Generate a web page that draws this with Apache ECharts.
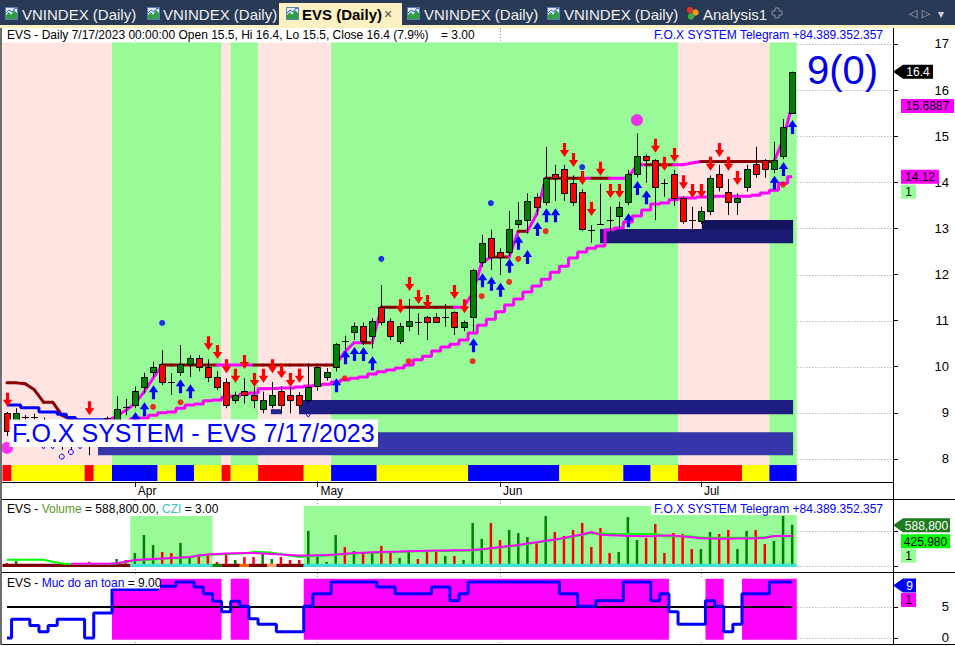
<!DOCTYPE html>
<html>
<head>
<meta charset="utf-8">
<title>EVS Daily</title>
<script src="https://cdn.jsdelivr.net/npm/echarts@6/dist/echarts.min.js"></script>
<style>
html,body{margin:0;padding:0;background:#ffffff;overflow:hidden;}
#chart{width:955px;height:646px;}
</style>
</head>
<body>
<div id="chart"></div>
<script>
// ================= DATA =================
const monthNames = ['Apr', 'May', 'Jun', 'Jul'];
const monthStartBars = [14, 34, 54, 76];
const priceTicks = [8, 9, 10, 11, 12, 13, 14, 15, 16, 17];
const volumeTicks = [0, 500000];
const safetyTicks = [0, 5];

const openP = [
  9.0, 8.85, 8.9, 8.9, 8.8, 8.6, 8.5, 8.3, 8.4, 8.6,
  8.4, 8.88, 8.7, 9.13, 9.18, 9.57, 9.88, 10.07, 9.67, 9.88,
  10.07, 10.18, 9.99, 9.77, 9.67, 9.28, 9.47, 9.39, 9.08, 9.18,
  9.47, 9.39, 9.39, 9.28, 9.58, 9.77, 9.99, 10.56, 10.76, 10.88,
  10.67, 11.3, 10.99, 10.56, 10.88, 10.98, 11.07, 11.07, 11.08, 11.18,
  10.87, 11.07, 12.28, 12.79, 12.48, 12.48, 13.09, 13.18, 13.68, 13.58,
  14.17, 14.29, 13.98, 13.78, 12.97, 13.1, 13.18, 13.28, 13.58, 14.17,
  14.58, 14.48, 13.98, 14.17, 13.67, 13.18, 13.17, 13.38, 14.17, 13.78,
  13.58, 13.89, 14.39, 14.48, 14.29, 14.58, 15.5
];
const highP = [
  9.02, 9.1, 8.95, 8.98, 8.9, 8.7, 8.6, 8.5, 8.6, 8.7,
  8.7, 8.92, 9.36, 9.3, 9.57, 9.87, 10.11, 10.36, 9.86, 10.47,
  10.25, 10.25, 10.16, 9.9, 9.75, 9.46, 9.75, 9.57, 9.46, 9.67,
  9.57, 9.57, 9.45, 10.07, 10.0, 9.97, 10.51, 10.67, 10.96, 10.96,
  11.05, 11.77, 11.05, 10.95, 11.47, 11.16, 11.1, 11.16, 11.36, 11.2,
  11.0, 12.12, 12.86, 12.97, 12.57, 13.38, 13.57, 13.76, 13.76, 14.77,
  14.38, 14.38, 14.15, 13.85, 13.07, 13.97, 13.47, 13.58, 14.27, 15.06,
  14.6, 14.5, 14.07, 14.27, 13.7, 13.47, 13.47, 14.15, 14.38, 14.07,
  13.76, 14.38, 14.77, 14.5, 14.88, 15.37, 16.4
];
const lowP = [
  8.5, 8.8, 8.85, 8.85, 8.4, 8.35, 8.2, 8.2, 8.3, 8.08,
  8.3, 8.8, 8.65, 8.95, 9.1, 9.42, 9.78, 9.6, 9.39, 9.8,
  9.78, 9.9, 9.67, 9.5, 9.1, 9.2, 9.2, 9.1, 8.99, 9.1,
  8.99, 8.99, 9.1, 9.2, 9.48, 9.7, 9.9, 10.38, 10.58, 10.47,
  10.4, 10.9, 10.58, 10.49, 10.77, 10.69, 10.58, 10.95, 10.87, 10.69,
  10.77, 10.76, 12.17, 12.1, 11.99, 12.4, 13.0, 12.89, 13.29, 13.5,
  13.6, 13.6, 13.49, 12.95, 12.69, 13.09, 12.93, 13.0, 13.5, 14.1,
  13.99, 13.18, 13.69, 13.49, 13.1, 12.93, 13.1, 13.29, 13.8, 13.29,
  13.29, 13.8, 14.1, 14.1, 14.2, 14.5, 15.5
];
const closeP = [
  8.6, 9.0, 8.9, 8.9, 8.6, 8.5, 8.3, 8.4, 8.5, 8.3,
  8.6, 8.88, 9.08, 9.13, 9.47, 9.77, 9.99, 9.67, 9.67, 10.07,
  10.18, 9.99, 9.77, 9.57, 9.18, 9.39, 9.39, 9.28, 9.28, 9.39,
  9.18, 9.28, 9.18, 9.57, 9.99, 9.89, 10.49, 10.56, 10.88, 10.56,
  10.99, 10.98, 10.67, 10.88, 10.99, 10.98, 10.98, 10.98, 11.08, 10.87,
  10.98, 12.1, 12.68, 12.37, 12.37, 12.98, 13.18, 13.6, 13.47, 14.09,
  14.09, 13.77, 13.58, 12.98, 12.97, 13.1, 13.18, 13.47, 14.17, 14.58,
  14.48, 13.89, 13.98, 13.67, 13.17, 13.18, 13.38, 14.09, 13.89, 13.58,
  13.67, 14.29, 14.17, 14.29, 14.48, 15.2, 16.4
];

// upper stop line and its state per bar (b = brown, m = magenta)
const stopLine = [
  9.65, 9.65, 9.63, 9.5, 9.23, 9.23, 8.95, 8.85, 8.8, 8.8,
  8.8, 8.82, 8.93, 9.05, 9.2, 9.45, 9.75, 10.04, 10.04, 10.04,
  10.04, 10.04, 10.04, 10.04, 10.04, 10.04, 10.04, 10.04, 10.04, 10.04,
  10.04, 10.04, 10.04, 10.04, 10.04, 10.04, 10.04, 10.32, 10.52, 10.52,
  10.52, 11.29, 11.29, 11.29, 11.29, 11.29, 11.29, 11.29, 11.29, 11.29,
  11.29, 11.6, 12.25, 12.38, 12.38, 12.38, 12.94, 12.94, 13.3, 14.09,
  14.09, 14.09, 14.09, 14.09, 14.09, 14.09, 14.09, 14.09, 14.09, 14.38,
  14.38, 14.38, 14.38, 14.38, 14.38, 14.42, 14.45, 14.45, 14.45, 14.45,
  14.45, 14.45, 14.45, 14.45, 14.45, 14.92, 15.6887
];
const stopState = ('bbbbbbbbbb' + 'bbmmmmmmbb' + 'bbbbmmmmbb' + 'bbbbbbbmmm' + 'bmbbbbbbbb' +
                   'mmmmbbmbmm' + 'bbbbmbbmmm' + 'mbbbmmmbbb' + 'bbbbbmm').split('');

// lower rising support line (null where not drawn)
const supportLine = [
  null, null, null, null, null, null, null, null, null, null,
  null, null, null, 8.82, 8.87, 8.89, 8.95, 9.0, 9.02, 9.1,
  9.17, 9.19, 9.26, 9.28, 9.34, 9.36, 9.41, 9.43, 9.52, 9.53,
  9.54, 9.54, 9.56, 9.58, 9.6, 9.62, 9.67, 9.71, 9.75, 9.78,
  9.84, 9.89, 9.93, 9.97, 10.04, 10.15, 10.23, 10.34, 10.43, 10.49,
  10.58, 10.73, 10.9, 11.03, 11.19, 11.34, 11.47, 11.62, 11.75, 11.9,
  12.05, 12.18, 12.36, 12.49, 12.57, 12.62, 12.97, 13.01, 13.14, 13.27,
  13.4, 13.53, 13.55, 13.62, 13.66, 13.66, 13.68, 13.68, 13.7, 13.7,
  13.7, 13.7, 13.72, 13.77, 13.83, 13.98, 14.12
];
// short blue line at the far left
const blueLine = [9.17, 9.17, 9.11, 9.11, 9.02, 9.02, 8.97, 8.9, 8.85, 8.85, 8.85, 8.85];

// signals
const sellIdx = [0, 9, 22, 23, 24, 25, 26, 27, 28, 29, 30, 31, 32, 43, 44, 45, 46, 49, 50,
                 61, 62, 63, 64, 65, 66, 67, 71, 72, 73, 74, 75, 76, 77, 78, 79, 80];
const sellTip = [9.13, 8.95, 10.36, 10.17, 9.86, 9.65, 9.95, 9.56, 9.65, 9.86, 9.75, 9.56, 9.65,
                 11.16, 11.64, 11.36, 11.25, 11.47, 11.16,
                 14.55, 14.33, 13.94, 13.27, 14.14, 13.66, 13.66, 14.64, 14.25, 14.44, 13.85,
                 13.66, 13.66, 14.25, 14.55, 14.25, 13.94];
const buyIdx = [14, 15, 16, 19, 20, 36, 37, 38, 39, 40, 51, 52, 53, 54, 55, 56, 57, 58, 59, 60,
                68, 69, 70, 84, 85, 86];
const buyTip = [9.02, 9.23, 9.6, 9.73, 9.62, 9.75, 10.36, 10.43, 10.43, 10.23, 10.62, 12.03, 11.95,
                11.82, 12.34, 12.84, 12.53, 13.14, 13.44, 13.44, 13.33, 14.03, 13.83, 14.14, 14.44, 15.35];
const redDotIdx = [16, 19, 37, 44, 51, 52, 55, 56, 59, 85];
const redDotVal = [9.13, 9.23, 9.75, 10.12, 10.12, 11.53, 11.84, 12.34, 12.94, 13.95];
const blueDotIdx = [17, 41, 53, 63];
const blueDotVal = [10.95, 12.34, 13.55, 14.33];
const bigDotIdx = [0, 69];
const bigDotVal = [8.24, 15.35];
const hollowVIdx = [4, 5, 8, 33];
const hollowVVal = [8.26, 8.26, 8.26, 8.95];
const hollowOIdx = [6, 7];
const hollowOVal = [8.05, 8.15];

// support / resistance boxes (x in bar units, y in price)
const zoneStart = [28.9, 31.98, 9.97, 64.95, 76.1];
const zoneEnd = [30.1, 86.1, 86.1, 86.1, 86.1];
const zoneTop = [9.08, 9.28, 8.58, 12.99, 13.18];
const zoneBottom = [8.97, 8.97, 8.08, 12.68, 12.97];

// background state runs (p = pink, g = green) and trend strip runs
const bgRuns = [['p', 12], ['g', 12], ['p', 1], ['g', 3], ['p', 8], ['g', 38], ['p', 10], ['g', 3]];
const stripRuns = [['r', 1], ['y', 8], ['r', 1], ['y', 2], ['b', 5], ['y', 2], ['b', 2], ['y', 3],
                   ['r', 1], ['y', 3], ['r', 5], ['y', 3], ['b', 5], ['y', 10], ['b', 10], ['y', 7],
                   ['b', 3], ['y', 3], ['r', 7], ['y', 3], ['b', 3]];

// volume panel
const volume = [
  43000, 70000, 25000, 20000, 30000, 25000, 35000, 20000, 30000, 60000,
  25000, 20000, 100000, 85000, 186000, 443000, 300000, 200000, 186000, 330000,
  130000, 143000, 143000, 57000, 170000, 86000, 128000, 128000, 200000, 100000,
  128000, 86000, 86000, 500000, 128000, 57000, 443000, 270000, 214000, 171000,
  200000, 286000, 214000, 114000, 228000, 100000, 200000, 200000, 143000, 143000,
  86000, 614000, 386000, 614000, 371000, 514000, 471000, 414000, 328000, 714000,
  486000, 428000, 514000, 614000, 271000, 543000, 186000, 200000, 700000, 371000,
  400000, 600000, 186000, 471000, 457000, 243000, 243000, 486000, 457000, 514000,
  243000, 500000, 514000, 314000, 357000, 714000, 588800
];
const volDir = ('rgrrrrrggr' + 'grgrgggrrg' + 'grrrrgrrgg' + 'rrrggggrgr' + 'grrggrrrgr' +
                'gggrrgggrg' + 'rrrrrrrggg' + 'rrrrrrggrr' + 'ggrrggg').split('');
const volAvgMagenta = [
  null, null, null, null, null, null, null, 33000, 33000, 33000,
  33000, 33000, 40000, 60000, 86000, 92000, 100000, 108000, 115000, 122000,
  130000, 150000, 165000, 172000, 178000, 182000, 186000, 186000, 180000, 172000,
  163000, 156000, 150000, 150000, 154000, 157000, 165000, 175000, 185000, 190000,
  195000, 200000, 205000, 208000, 212000, 215000, 218000, 220000, 222000, 225000,
  226000, 229000, 240000, 255000, 270000, 286000, 300000, 320000, 340000, 360000,
  380000, 400000, 428000, 450000, 486000, 445000, 440000, 435000, 430000, 428000,
  425000, 428000, 436000, 436000, 420000, 410000, 396000, 392000, 388000, 388000,
  392000, 392000, 395000, 400000, 428000, 430000, 430000
];
const volAvgGreen = [
  90000, 90000, 90000, 90000, 90000, 60000, 35000, 30000, 30000, 30000,
  30000, 30000, 36000, 54000, 80000, 86000, 94000, 102000, 109000, 116000,
  124000, 144000, 159000, 166000, 172000, 176000, 180000, 200000, 200000, 190000,
  170000, 150000, 130000, 144000, 148000, 151000, 159000, 169000, 179000, 184000,
  189000, 194000, 199000, 202000, 206000, 209000, 212000, 214000, 216000, 219000,
  220000, 223000, 234000, 249000, 264000, 280000, 294000, 314000, 334000, 354000,
  374000, 394000, 420000, 444000, 470000, 465000, 457000, 457000, 457000, 457000,
  457000, 457000, 426000, 426000, 428000, 420000, 404000, 404000, 404000, 404000,
  404000, 404000, 404000, 410000, 426000, 426000, 425980
];
const volZoneStart = [14, 33];
const volZoneEnd = [22, 86];
const volZoneTop = [714000, 857000];
const volStripRuns = [['d', 14], ['c', 9], ['g', 1], ['d', 2], ['o', 1], ['d', 2], ['l', 1], ['d', 3], ['c', 54]];

// "Muc do an toan" panel
const safety = [
  0, 3, 3, 2, 1, 2, 3, 3, 3, 0,
  4, 4, 7.8, 7.8, 7.8, 7.8, 7.8, 8.3, 8.3, 9,
  9, 8.2, 7.1, 5.9, 4.2, 5.9, 5.1, 3.1, 2.2, 2.2,
  1, 1, 1, 5.1, 7.1, 7.1, 9, 9, 9, 9,
  9, 8.2, 8.2, 7.1, 7.1, 7.1, 7.1, 8.2, 8.2, 6,
  7.1, 9, 9, 9, 9, 9, 9, 9, 9, 9,
  9, 7.1, 7.1, 5.1, 5.1, 6, 6, 6, 9, 9,
  9, 6, 7.1, 4.2, 2.2, 2.2, 2.2, 6, 5.1, 1,
  2.2, 7.1, 7.1, 7.1, 9, 9, 9
];
const safetyLevel = 5;
const safeZoneStart = [12, 25, 33, 77, 81];
const safeZoneEnd = [23, 26, 72, 78, 86];

// right-side value tags
const priceTagValues = [16.4, 15.6887, 14.12, 14.12];
const priceTagTexts = ['16.4', '15.6887', '14.12', '1'];
const volumeTagValues = [588800, 425980, 425980];
const volumeTagTexts = ['588,800', '425,980', '1'];
const safetyTagValues = [9, 9];
const safetyTagTexts = ['9', '1'];

const tabLabels = ['VNINDEX (Daily)', 'VNINDEX (Daily)', 'EVS (Daily)', 'VNINDEX (Daily)', 'VNINDEX (Daily)', 'Analysis1'];

// ================= LAYOUT / STYLE =================
const FONT = '"Liberation Sans", Arial, Helvetica, sans-serif';
const N = closeP.length;
const X_MIN = -0.5, X_MAX = 97.04;
const GRID_LEFT = 2.435, GRID_W = 890.565;
const P_MIN = 7.5, P_MAX = 17.347, BG_TOP = 17.035, BG_BOTTOM = 7.868, STRIP_BOTTOM = 7.52;
const V_MIN = -71429, V_MAX = 942857, V_AREA_TOP = 857000, VSTRIP_TOP = 32000, VSTRIP_BOTTOM = -14000;
const S_MIN = -0.8036, S_MAX = 10.446, SZONE_TOP = 9.53, SZONE_BOTTOM = -0.27;

const bgColor = { p: '#ffe4e1', g: '#98fb98' };
const stripColor = { r: '#ff0000', y: '#ffff00', b: '#0000ff' };
const volStripColor = { d: '#800000', c: '#40e0d0', g: '#008000', o: '#ff6a00', l: '#ffa060' };
const zoneColors = ['#26268c', '#1e1e82', '#3636aa', '#1a1a72', '#13135e'];
const stopColor = { b: '#880000', m: '#ff00ff' };

const priceTagStyles = [
  { arrow: true, fill: '#000000', color: '#ffffff', w: 40, dy: 0 },
  { fill: '#ff00ff', color: '#000000', w: 53, dy: 1.5 },
  { fill: '#ff00ff', color: '#000000', w: 38, dy: 0 },
  { fill: '#99ff99', color: '#000000', w: 15, dy: 15 }
];
const volumeTagStyles = [
  { arrow: true, fill: '#1e7b1e', color: '#ffffff', w: 57, dy: 0.5 },
  { fill: '#00ff00', color: '#000000', w: 49, dy: 5 },
  { fill: '#99ff99', color: '#000000', w: 15, dy: 19.5 }
];
const safetyTagStyles = [
  { arrow: true, fill: '#0000ff', color: '#ffffff', w: 23, dy: 3.5 },
  { fill: '#ff00ff', color: '#000000', w: 15, dy: 18 }
];

// ================= RENDER HELPERS =================
function runsToItems(runs, colors, y0, y1) {
  const items = [];
  let s = 0;
  runs.forEach(function (r) {
    items.push({ value: [s - 0.5, s + r[1] - 0.5, y0, y1], itemStyle: { color: colors[r[0]] } });
    s += r[1];
  });
  return items;
}
function rectRender(params, api) {
  const p0 = api.coord([api.value(0), api.value(2)]);
  const p1 = api.coord([api.value(1), api.value(3)]);
  return {
    type: 'rect',
    shape: { x: Math.min(p0[0], p1[0]), y: Math.min(p0[1], p1[1]), width: Math.abs(p1[0] - p0[0]), height: Math.abs(p1[1] - p0[1]) },
    style: { fill: api.visual('color') }
  };
}
function hGridRender(params, api) {
  const cs = params.coordSys;
  const y = Math.round(api.coord([0, api.value(1)])[1]) + 0.5;
  return { type: 'line', shape: { x1: cs.x, y1: y, x2: cs.x + cs.width, y2: y }, style: { stroke: '#9c9c9c', lineWidth: 1, lineDash: [1, 2] } };
}
function vGridRender(params, api) {
  const cs = params.coordSys;
  const x = Math.round(api.coord([api.value(0), api.value(1)])[0]) + 0.5;
  return { type: 'line', shape: { x1: x, y1: cs.y, x2: x, y2: cs.y + cs.height }, style: { stroke: '#9c9c9c', lineWidth: 1, lineDash: [1, 2] } };
}
function candleRender(params, api) {
  const i = api.value(0), o = api.value(1), c = api.value(2), l = api.value(3), h = api.value(4);
  const pO = api.coord([i, o]), pC = api.coord([i, c]), pL = api.coord([i, l]), pH = api.coord([i, h]);
  const x = Math.round(pO[0]) + 0.5;
  const children = [{ type: 'line', shape: { x1: x, y1: pH[1], x2: x, y2: pL[1] }, style: { stroke: '#000', lineWidth: 1 } }];
  if (Math.abs(o - c) < 0.005) {
    const y = Math.round(pO[1]) + 0.5;
    children.push({ type: 'line', shape: { x1: x - 3.5, y1: y, x2: x + 3.5, y2: y }, style: { stroke: '#000', lineWidth: 1 } });
  } else {
    const top = Math.round(Math.min(pO[1], pC[1])) + 0.5;
    const bot = Math.round(Math.max(pO[1], pC[1])) + 0.5;
    children.push({ type: 'rect', shape: { x: x - 3, y: top, width: 6, height: Math.max(1, bot - top) },
      style: { fill: c > o ? '#008000' : '#ff0000', stroke: '#000', lineWidth: 1 } });
  }
  return { type: 'group', children: children };
}
function arrowRender(dir, color) {
  return function (params, api) {
    const p = api.coord([api.value(0), api.value(1)]);
    const x = Math.round(p[0]) + 0.5, y = p[1];
    const s = dir === 'down' ? -1 : 1;
    const pts = [[x - 1.6, y + s * 14], [x + 1.6, y + s * 14], [x + 1.6, y + s * 7], [x + 4.7, y + s * 7],
                 [x, y], [x - 4.7, y + s * 7], [x - 1.6, y + s * 7]];
    return { type: 'polygon', shape: { points: pts }, style: { fill: color } };
  };
}
function segRender(params, api) {
  const i = api.value(0);
  const p0 = api.coord([i - 1, api.value(1)]), p1 = api.coord([i, api.value(2)]);
  return { type: 'line', shape: { x1: p0[0], y1: p0[1], x2: p1[0], y2: p1[1] },
    style: { stroke: api.visual('color'), lineWidth: 3, lineCap: 'round' } };
}
function volBarRender(params, api) {
  const i = api.value(0);
  const p0 = api.coord([i, 0]), p1 = api.coord([i, api.value(1)]);
  return { type: 'rect', shape: { x: p0[0] - 1.25, y: p1[1], width: 2.5, height: p0[1] - p1[1] },
    style: { fill: api.visual('color') } };
}
function hollowVRender(params, api) {
  const p = api.coord([api.value(0), api.value(1)]);
  return { type: 'polyline', shape: { points: [[p[0] - 3, p[1] - 2], [p[0], p[1] + 2], [p[0] + 3, p[1] - 2]] },
    style: { stroke: '#0000ff', lineWidth: 1, fill: null } };
}
function hollowORender(params, api) {
  const p = api.coord([api.value(0), api.value(1)]);
  return { type: 'circle', shape: { cx: p[0], cy: p[1], r: 2.5 }, style: { stroke: '#0000ff', lineWidth: 1, fill: 'none' } };
}
function tagRender(styles, texts) {
  return function (params, api) {
    const t = styles[params.dataIndex];
    const cs = params.coordSys;
    const ax = cs.x + cs.width;
    const y = api.coord([0, api.value(1)])[1] + t.dy;
    const children = [];
    let cx;
    if (t.arrow) {
      children.push({ type: 'polygon', shape: { points: [[ax, y], [ax + 10, y - 7], [ax + t.w, y - 7], [ax + t.w, y + 7], [ax + 10, y + 7]] }, style: { fill: t.fill } });
      cx = ax + 10 + (t.w - 10) / 2;
    } else {
      children.push({ type: 'rect', shape: { x: ax + 8, y: y - 7, width: t.w, height: 14 }, style: { fill: t.fill } });
      cx = ax + 8 + t.w / 2;
    }
    children.push({ type: 'text', style: { text: texts[params.dataIndex], x: cx, y: y + 0.5, fill: t.color, font: '12px ' + FONT,
      align: 'center', verticalAlign: 'middle', textAlign: 'center', textVerticalAlign: 'middle' } });
    return { type: 'group', children: children };
  };
}

// ================= SERIES DATA BUILT FROM THE ARRAYS =================
const candleData = openP.map(function (o, i) { return [i, o, closeP[i], lowP[i], highP[i]]; });
const stopSegs = [];
for (let i = 1; i < stopLine.length; i++) {
  stopSegs.push({ value: [i, stopLine[i - 1], stopLine[i]], itemStyle: { color: stopColor[stopState[i]] } });
}
function pairs(arr) {
  const out = [];
  arr.forEach(function (v, i) { if (v !== null) out.push([i, v]); });
  return out;
}
function xy(idx, vals) { return idx.map(function (b, k) { return [b, vals[k]]; }); }

function customSeries(name, gi, z, data, renderItem, encode) {
  const s = { type: 'custom', name: name, xAxisIndex: gi, yAxisIndex: gi, z: z, silent: true, clip: false,
    data: data, renderItem: renderItem };
  if (encode) s.encode = encode;
  return s;
}
const RECT_ENC = { x: [0, 1], y: [2, 3] };

const series = [
  // ---------- price panel ----------
  customSeries('priceGridH', 0, 0, priceTicks.map(function (v) { return [0, v]; }), hGridRender),
  customSeries('priceGridV', 0, 0, monthStartBars.map(function (b) { return [b, P_MIN]; }), vGridRender),
  customSeries('background', 0, 1, runsToItems(bgRuns, bgColor, BG_TOP, BG_BOTTOM), rectRender, RECT_ENC),
  customSeries('trendStrip', 0, 1, runsToItems(stripRuns, stripColor, BG_BOTTOM, STRIP_BOTTOM), rectRender, RECT_ENC),
  customSeries('zones', 0, 2, zoneStart.map(function (s, k) {
    return { value: [s, zoneEnd[k], zoneTop[k], zoneBottom[k]], itemStyle: { color: zoneColors[k] } };
  }), rectRender, RECT_ENC),
  { type: 'line', name: 'support', xAxisIndex: 0, yAxisIndex: 0, z: 3, step: 'middle', symbol: 'none', silent: true,
    data: pairs(supportLine), lineStyle: { color: '#ff00ff', width: 3 } },
  { type: 'line', name: 'blueLine', xAxisIndex: 0, yAxisIndex: 0, z: 3, step: 'middle', symbol: 'none', silent: true,
    data: pairs(blueLine), lineStyle: { color: '#0000ff', width: 3 } },
  customSeries('stopLine', 0, 3, stopSegs, segRender, { x: 0, y: [1, 2] }),
  customSeries('candles', 0, 4, candleData, candleRender, { x: 0, y: [1, 2, 3, 4] }),
  customSeries('sell', 0, 5, xy(sellIdx, sellTip), arrowRender('down', '#ff0000')),
  customSeries('buy', 0, 5, xy(buyIdx, buyTip), arrowRender('up', '#0000ff')),
  { type: 'scatter', name: 'redDots', xAxisIndex: 0, yAxisIndex: 0, z: 5, silent: true, symbol: 'circle', symbolSize: 6,
    itemStyle: { color: '#ff0000' }, data: xy(redDotIdx, redDotVal) },
  { type: 'scatter', name: 'blueDots', xAxisIndex: 0, yAxisIndex: 0, z: 5, silent: true, symbol: 'circle', symbolSize: 6,
    itemStyle: { color: '#0000ff' }, data: xy(blueDotIdx, blueDotVal) },
  { type: 'scatter', name: 'bigDots', xAxisIndex: 0, yAxisIndex: 0, z: 5, silent: true, symbol: 'circle', symbolSize: 12,
    itemStyle: { color: '#ff00ff' }, data: xy(bigDotIdx, bigDotVal) },
  customSeries('hollowV', 0, 5, xy(hollowVIdx, hollowVVal), hollowVRender),
  customSeries('hollowO', 0, 5, xy(hollowOIdx, hollowOVal), hollowORender),
  customSeries('priceTags', 0, 20, priceTagValues.map(function (v) { return [0, v]; }), tagRender(priceTagStyles, priceTagTexts)),

  // ---------- volume panel ----------
  customSeries('volGridH', 1, 0, volumeTicks.map(function (v) { return [0, v]; }), hGridRender),
  customSeries('volGridV', 1, 0, monthStartBars.map(function (b) { return [b, 0]; }), vGridRender),
  customSeries('volArea', 1, 1, [{ value: [-0.5, N - 0.5, V_AREA_TOP, VSTRIP_BOTTOM], itemStyle: { color: '#ffffff' } }], rectRender, RECT_ENC),
  customSeries('volZones', 1, 1, volZoneStart.map(function (s, k) {
    return { value: [s - 0.5, volZoneEnd[k] + 0.5, volZoneTop[k], VSTRIP_BOTTOM], itemStyle: { color: '#98fb98' } };
  }), rectRender, RECT_ENC),
  customSeries('volume', 1, 2, volume.map(function (v, i) {
    return { value: [i, v], itemStyle: { color: volDir[i] === 'g' ? '#008000' : '#ff0000' } };
  }), volBarRender),
  customSeries('volStrip', 1, 3, runsToItems(volStripRuns, volStripColor, VSTRIP_TOP, VSTRIP_BOTTOM), rectRender, RECT_ENC),
  { type: 'line', name: 'volAvgGreen', xAxisIndex: 1, yAxisIndex: 1, z: 4, symbol: 'none', silent: true,
    data: pairs(volAvgGreen), lineStyle: { color: '#00ff00', width: 2 } },
  { type: 'line', name: 'volAvgMagenta', xAxisIndex: 1, yAxisIndex: 1, z: 4, symbol: 'none', silent: true,
    data: pairs(volAvgMagenta), lineStyle: { color: '#ff00ff', width: 2 } },
  customSeries('volTags', 1, 20, volumeTagValues.map(function (v) { return [0, v]; }), tagRender(volumeTagStyles, volumeTagTexts)),

  // ---------- safety panel ----------
  customSeries('safeGridH', 2, 0, safetyTicks.map(function (v) { return [0, v]; }), hGridRender),
  customSeries('safeGridV', 2, 0, monthStartBars.map(function (b) { return [b, 0]; }), vGridRender),
  customSeries('safeArea', 2, 1, [{ value: [-0.5, N - 0.5, SZONE_TOP, SZONE_BOTTOM], itemStyle: { color: '#ffffff' } }], rectRender, RECT_ENC),
  customSeries('safeZones', 2, 1, safeZoneStart.map(function (s, k) {
    return { value: [s - 0.5, safeZoneEnd[k] + 0.5, SZONE_TOP, SZONE_BOTTOM], itemStyle: { color: '#ff00ff' } };
  }), rectRender, RECT_ENC),
  { type: 'line', name: 'level', xAxisIndex: 2, yAxisIndex: 2, z: 2, symbol: 'none', silent: true,
    data: [[0, safetyLevel], [N - 1, safetyLevel]], lineStyle: { color: '#000000', width: 2 } },
  { type: 'line', name: 'safety', xAxisIndex: 2, yAxisIndex: 2, z: 3, step: 'middle', symbol: 'none', silent: true,
    data: pairs(safety), lineStyle: { color: '#0000ff', width: 3 } },
  customSeries('safeTags', 2, 20, safetyTagValues.map(function (v) { return [0, v]; }), tagRender(safetyTagStyles, safetyTagTexts))
];

// ================= STATIC DECORATION (tabs, titles, frames) =================
function gText(x, y, text, opt) {
  opt = opt || {};
  const st = { text: text, x: x, y: y, fill: opt.fill || '#000000', font: opt.font || ('12px ' + FONT),
    align: opt.align || 'left', verticalAlign: 'middle', textAlign: opt.align || 'left', textVerticalAlign: 'middle' };
  if (opt.rich) st.rich = opt.rich;
  return { type: 'text', z: opt.z || 60, silent: true, style: st };
}
function gRect(x, y, w, h, fill, z) {
  return { type: 'rect', z: z || 55, silent: true, shape: { x: x, y: y, width: w, height: h }, style: { fill: fill } };
}
function gLine(x1, y1, x2, y2, stroke, lw, z) {
  return { type: 'line', z: z || 58, silent: true, shape: { x1: x1, y1: y1, x2: x2, y2: y2 }, style: { stroke: stroke, lineWidth: lw || 1 } };
}
function chartIcon(x) {
  return [
    { type: 'rect', z: 61, silent: true, shape: { x: x + 0.5, y: 7.5, width: 12, height: 12 }, style: { fill: '#e6eefb', stroke: '#5a7fb8', lineWidth: 1 } },
    { type: 'polygon', z: 62, silent: true, shape: { points: [[x + 1, 19], [x + 1, 15], [x + 4, 12], [x + 6, 15], [x + 9, 10], [x + 12, 13], [x + 12, 19]] }, style: { fill: '#2ea043' } },
    { type: 'polyline', z: 62, silent: true, shape: { points: [[x + 1, 13], [x + 4, 10], [x + 7, 12], [x + 10, 8], [x + 12, 9]] }, style: { stroke: '#2f5fd0', lineWidth: 1, fill: null } }
  ];
}

const TAB_FONT = '15px ' + FONT;
let graphics = [
  gRect(0, 0, 955, 25, '#293a57', 50),
  gRect(0, 25, 955, 3, '#fdf1c1', 50),
  gRect(279, 3, 123, 23, '#fdf1c1', 51)
];
const tabTextX = [22, 163, 302, 424, 564, 703];
const tabIconX = [5, 147, 286, 407, 547];
tabIconX.forEach(function (x) { graphics = graphics.concat(chartIcon(x)); });
tabLabels.forEach(function (t, k) {
  const active = k === 2;
  graphics.push(gText(tabTextX[k], 14, t, { fill: active ? '#000000' : '#f0f0f0', font: (active ? 'bold ' : '') + TAB_FONT }));
});
graphics.push(gText(388, 14, '\u00d7', { fill: '#505050', font: '14px ' + FONT, align: 'center' }));
// analysis icon (three small coloured blobs)
graphics.push({ type: 'circle', z: 61, silent: true, shape: { cx: 690, cy: 10, r: 3.2 }, style: { fill: '#e03030' } });
graphics.push({ type: 'circle', z: 61, silent: true, shape: { cx: 695.5, cy: 12.5, r: 3.2 }, style: { fill: '#f59a1a' } });
graphics.push({ type: 'circle', z: 62, silent: true, shape: { cx: 691, cy: 16.5, r: 3.2 }, style: { fill: '#3fae3f' } });
// new-tab cross icon
graphics.push({ type: 'polygon', z: 61, silent: true, shape: { points: [[775, 8], [779, 8], [779, 11], [782, 11], [782, 15], [779, 15], [779, 18], [775, 18], [775, 15], [772, 15], [772, 11], [775, 11]] }, style: { fill: null, stroke: '#8a8e99', lineWidth: 1 } });
graphics.push(gText(913, 13, '\u25c1', { fill: '#b9bdc8', font: '11px "DejaVu Sans", sans-serif', align: 'center' }));
graphics.push(gText(926, 13, '\u25b7', { fill: '#b9bdc8', font: '11px "DejaVu Sans", sans-serif', align: 'center' }));
graphics.push(gText(941, 14, '\u25be', { fill: '#d0d3da', font: '12px "DejaVu Sans", sans-serif', align: 'center' }));

// frame lines
graphics.push(gLine(0, 499.5, 955, 499.5, '#000000', 1));
graphics.push(gLine(0, 572.5, 955, 572.5, '#000000', 1));
graphics.push(gLine(0, 644.5, 955, 644.5, '#000000', 1));
graphics.push(gLine(893.5, 28, 893.5, 645, '#000000', 1));
graphics.push(gLine(1, 28, 1, 645, '#6e6e6e', 2));

// price panel titles
const last = N - 1;
const chg = ((closeP[last] / closeP[last - 1] - 1) * 100).toFixed(1);
graphics.push(gRect(3, 28, 473, 12.5, '#ffffff', 55));
graphics.push(gText(7, 35, 'EVS - Daily 7/17/2023 00:00:00 Open ' + openP[last] + ', Hi ' + highP[last] + ', Lo ' + lowP[last] +
  ', Close ' + closeP[last] + ' (' + chg + '%)'));
graphics.push(gText(441, 35, '= 3.00'));
graphics.push(gRect(651, 28, 233, 12.5, '#ffffff', 55));
graphics.push(gText(883, 35, 'F.O.X SYSTEM Telegram +84.389.352.357', { fill: '#0000ff', align: 'right' }));
graphics.push(gText(807, 70, '9(0)', { fill: '#0000ee', font: '40px ' + FONT }));
graphics.push(gRect(9.5, 419.5, 368.5, 27.5, '#ffffff', 55));
graphics.push(gText(12, 433, 'F.O.X SYSTEM - EVS 7/17/2023', { fill: '#0000ff', font: '25px ' + FONT }));

// volume panel titles
graphics.push(gRect(3, 502, 216, 13, '#ffffff', 55));
graphics.push(gText(7, 509, '{k|EVS - }{g|Volume}{k| = 588,800.00, }{c|CZI}{k| = 3.00}', {
  rich: { k: { fill: '#000000', color: '#000000', font: '12px ' + FONT },
          g: { fill: '#5a9a2a', color: '#5a9a2a', font: '12px ' + FONT },
          c: { fill: '#33c6c6', color: '#33c6c6', font: '12px ' + FONT } } }));
graphics.push(gRect(651, 502, 233, 13, '#ffffff', 55));
graphics.push(gText(883, 509, 'F.O.X SYSTEM Telegram +84.389.352.357', { fill: '#0000ff', align: 'right' }));

// safety panel title
graphics.push(gRect(3, 576, 157, 12.5, '#ffffff', 55));
graphics.push(gText(7, 582.5, '{k|EVS - }{b|Muc do an toan}{k| = 9.00}', {
  rich: { k: { fill: '#000000', color: '#000000', font: '12px ' + FONT },
          b: { fill: '#0000ff', color: '#0000ff', font: '12px ' + FONT } } }));

// ================= OPTION =================
function xAxisFor(gi, show) {
  const ax = { type: 'value', gridIndex: gi, min: X_MIN, max: X_MAX, splitLine: { show: false } };
  if (!show) { ax.show = false; return ax; }
  ax.axisLine = { show: true, onZero: false, lineStyle: { color: '#000000', width: 1 } };
  ax.axisTick = { show: true, customValues: monthStartBars, length: 5, lineStyle: { color: '#000000' } };
  ax.axisLabel = { show: true, customValues: monthStartBars, color: '#000000', fontSize: 12, fontFamily: FONT,
    align: 'left', margin: 3, padding: [0, 0, 0, 3],
    formatter: function (v) { const k = monthStartBars.indexOf(Math.round(v)); return k >= 0 ? monthNames[k] : ''; } };
  return ax;
}
function yAxisFor(gi, min, max, ticks, labels) {
  return {
    type: 'value', gridIndex: gi, position: 'right', min: min, max: max, scale: true,
    axisLine: { show: false, onZero: false },
    axisTick: { show: true, customValues: ticks, length: 5, inside: false, lineStyle: { color: '#000000' } },
    axisLabel: labels ? { show: true, customValues: ticks, align: 'right', margin: 56, color: '#000000', fontSize: 13, fontFamily: FONT }
                      : { show: false },
    splitLine: { show: false }
  };
}

const option = {
  animation: false,
  backgroundColor: '#ffffff',
  textStyle: { fontFamily: FONT },
  grid: [
    { left: GRID_LEFT, top: 28, width: GRID_W, height: 454, containLabel: false, outerBoundsMode: 'none' },
    { left: GRID_LEFT, top: 500, width: GRID_W, height: 71, containLabel: false, outerBoundsMode: 'none' },
    { left: GRID_LEFT, top: 573, width: GRID_W, height: 70, containLabel: false, outerBoundsMode: 'none' }
  ],
  xAxis: [xAxisFor(0, true), xAxisFor(1, false), xAxisFor(2, false)],
  yAxis: [
    yAxisFor(0, P_MIN, P_MAX, priceTicks, true),
    yAxisFor(1, V_MIN, V_MAX, volumeTicks, false),
    yAxisFor(2, S_MIN, S_MAX, safetyTicks, true)
  ],
  series: series,
  graphic: { elements: graphics }
};

const chart = echarts.init(document.getElementById('chart'), null, { renderer: 'svg', width: 955, height: 646 });
chart.setOption(option);
</script>
</body>
</html>
